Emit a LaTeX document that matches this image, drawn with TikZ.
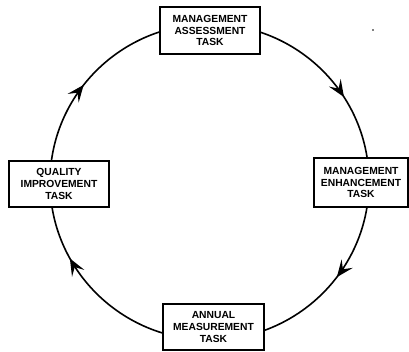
\documentclass[tikz,border=0pt]{standalone}
\usepackage{fontspec}
\setmainfont{Liberation Sans}
\usetikzlibrary{arrows.meta,decorations.markings}
\begin{document}
\begin{tikzpicture}[x=1pt,y=1pt,
  >={Stealth[length=17pt,width=14pt,inset=7pt]},
  taskbox/.style={draw=black, line width=1.1pt, fill=white, align=center,
    inner sep=0pt, font=\fontsize{10.3}{11.7}\selectfont\bfseries},
  cycle/.style={line width=1.6pt},
  ring/.style={x radius=159.5, y radius=158}]
\useasboundingbox (0,0) rectangle (409,-351);
% points where the cycle meets each task box
\coordinate (pT) at (209.5,-24);
\coordinate (pR) at (369,-182);
\coordinate (pB) at (209.5,-340);
\coordinate (pL) at (50,-182);
% the cycle, clockwise, one arrow per quarter
\draw[cycle, postaction={decorate}, decoration={markings,
    mark=at position 0.64 with {\arrow{>}}}]
  (pT) arc[ring, start angle=90, end angle=0];
\draw[cycle, postaction={decorate}, decoration={markings,
    mark=at position 0.41 with {\arrow{>}}}]
  (pR) arc[ring, start angle=0, end angle=-90];
\draw[cycle, postaction={decorate}, decoration={markings,
    mark=at position 0.68 with {\arrow{>}}}]
  (pB) arc[ring, start angle=-90, end angle=-180];
\draw[cycle, postaction={decorate}, decoration={markings,
    mark=at position 0.42 with {\arrow{>}}}]
  (pL) arc[ring, start angle=180, end angle=90];
% task boxes
\node[taskbox, minimum width=100pt, minimum height=47pt] (assess) at (210,-30.5)
  {MANAGEMENT\\ASSESSMENT\\TASK};
\node[taskbox, minimum width=94pt, minimum height=49pt] (enhance) at (361,-182.5)
  {MANAGEMENT\\ENHANCEMENT\\TASK};
\node[taskbox, minimum width=101pt, minimum height=46pt] (measure) at (213.5,-327)
  {ANNUAL\\MEASUREMENT\\TASK};
\node[taskbox, minimum width=100pt, minimum height=46pt] (quality) at (59,-184)
  {QUALITY\\IMPROVEMENT\\TASK};
% small ink dot to the right of the top box
\fill (373,-30) circle (0.9);
\end{tikzpicture}
\end{document}
